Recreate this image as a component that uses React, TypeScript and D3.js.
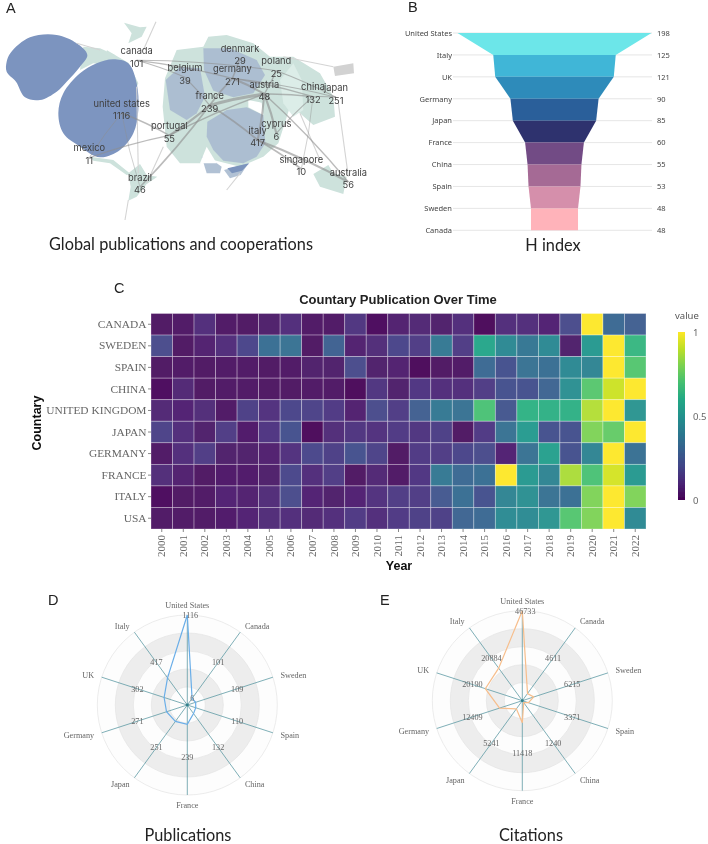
import React from "react";
import * as d3 from "d3";

// ---------- Panel A data (cartogram, in reference-map units) ----------
type P = [number, number];
const mapRegionsTeal: P[][] = [
  [[250,140],[300,145],[345,165],[385,188],[415,250],[402,280],[340,200],[280,190],[240,210]],
  [[495,235],[530,150],[610,140],[625,110],[680,105],[760,130],[810,170],[880,170],[960,220],[1000,290],[1005,350],[940,375],[900,340],[870,320],[835,430],[790,470],[720,500],[640,480],[600,490],[540,490],[500,440],[488,320]],
  [[385,520],[420,492],[440,525],[472,530],[440,552],[410,590],[385,602],[392,560]],
  [[940,522],[985,495],[1000,520],[1040,530],[1030,582],[960,560]],
  [[270,470],[340,480],[392,522],[380,525],[330,490],[280,482]],
  [[372,68],[420,82],[440,80],[425,110],[385,130],[395,100]],
  [[320,150],[345,165],[350,185],[325,175]],
];
const mapRegionsPale: P[][] = [
  [[840,240],[880,190],[905,240],[910,330],[880,350],[850,310]],
];
const mapRegionsBlueLight: P[][] = [
  [[497,240],[540,200],[600,205],[615,290],[590,340],[560,360],[510,330]],
  [[610,145],[690,145],[770,180],[795,225],[760,280],[700,292],[640,272],[612,210]],
  [[622,365],[680,330],[740,322],[790,345],[796,430],[770,470],[730,490],[670,482],[640,450],[620,410]],
  [[605,470],[630,475],[665,500],[660,520],[620,520]],
  [[672,510],[745,490],[722,525],[690,535]],
];
const mapRegionsDark: P[][] = [[[682,505],[748,490],[726,512],[696,520]]];
const alaskaBlob: P[] = [[32,158],[90,112],[170,105],[230,130],[262,165],[240,200],[200,245],[170,275],[120,300],[75,292],[48,245],[20,215],[20,185]];
const usaBlob: P[] = [[340,178],[385,190],[410,250],[415,330],[400,400],[360,450],[300,472],[240,440],[190,400],[175,340],[190,280],[240,220],[290,190]];
const mapGaps: P[][] = [
  [[745,300],[785,308],[790,345],[745,322]],
  [[600,490],[620,440],[650,490]],
];
const mapGrey: P[][] = [[[1000,200],[1060,190],[1062,220],[1005,228]]];
const faintLinesA: P[][] = [
  [[468,65],[430,150]],
  [[385,600],[375,660]],
  [[410,260],[415,520]],
  [[1015,310],[1045,530]],
  [[900,340],[960,480]],
  [[300,150],[230,130]],
  [[680,570],[720,520]],
  [[440,550],[490,440]],
  [[850,170],[1000,200]],
];
const countryNames = ["canada","denmark","belgium","germany","poland","austria","france","china","japan","united states","portugal","italy","cyprus","mexico","singapore","brazil","australia"];
const countryCounts = [101,29,39,271,25,48,239,132,251,1116,55,417,6,11,10,46,56];
const countryLabelX = [410,720,555,697,829,793,629,939,1008,365,508,773,829,268,904,420,1045];
const countryLabelY = [153,146,204,207,184,254,288,262,264,311,378,392,372,445,479,533,518];
const linkFrom = ["canada","canada","canada","belgium","germany","germany","germany","france","france","france","france","france","austria","austria","austria","austria","cyprus","china","poland","denmark","mexico","mexico","brazil","united states","italy","italy","china","portugal","poland"];
const linkTo = ["germany","belgium","poland","france","austria","japan","china","austria","portugal","brazil","italy","germany","cyprus","italy","australia","china","china","japan","austria","germany","united states","portugal","united states","portugal","australia","singapore","singapore","austria","japan"];
const linkWeight = [2,1.6,1.5,1.8,3,1.5,2,4,3,2.5,2.5,2.5,3,3,2,2,1.6,1.5,2,2,1.2,1.6,1,2,3,2.5,1,2,1.6];

// ---------- Panel B data ----------
const hCountries = ["United States","Italy","UK","Germany","Japan","France","China","Spain","Sweden","Canada"];
const hValues = [198,125,121,90,85,60,55,53,48,48];
const hColors = ["#6CE6E9","#40B6D7","#2E8BBA","#2C5F9A","#2E336E","#724B85","#A56A95","#D58FAB","#FFB3BA"];

// ---------- Panel C data ----------
const years = d3.range(2000, 2023).map(String);
const heatCountries = ["CANADA","SWEDEN","SPAIN","CHINA","UNITED KINGDOM","JAPAN","GERMANY","FRANCE","ITALY","USA"];
const heatCanada = [.02,.03,.1,.03,.02,.05,.1,.03,.03,.12,.01,.06,.08,.05,.1,0,.1,.1,.07,.2,1,.32,.27];
const heatSweden = [.2,.02,.06,.1,.18,.33,.35,.02,.28,.06,.09,.18,.15,.38,.15,.58,.45,.37,.45,.05,.52,1,.65];
const heatSpain = [.02,.03,.02,.03,.03,.02,.03,.05,.05,.2,.05,.06,0,.02,.03,.32,.22,.35,.33,.45,.43,1,.72];
const heatChina = [.01,.08,.02,.03,.03,.02,.02,.03,.03,0,.12,.05,.13,.1,.1,.15,.22,.22,.3,.48,.73,.92,1];
const heatUK = [.08,.07,.09,.03,.16,.11,.18,.17,.14,.06,.2,.15,.27,.38,.35,.7,.24,.63,.62,.62,.88,1,.5];
const heatJapan = [.17,.1,.05,.15,.04,.13,.22,0,.09,.12,.11,.14,.12,.16,.02,.14,.35,.53,.22,.22,.8,.75,1];
const heatGermany = [.03,.1,.15,.05,.05,.06,.11,.19,.16,.22,.17,.02,.14,.15,.18,.2,.07,.35,.55,.22,.43,1,.34];
const heatFrance = [.09,.06,.02,.04,.04,.05,.19,.1,.15,.02,.08,.03,.13,.38,.32,.33,1,.52,.43,.87,.7,.93,.52];
const heatItaly = [.01,.02,.03,.07,.06,.09,.2,.07,.05,.07,.11,.15,.15,.25,.33,.22,.43,.48,.35,.33,.8,1,.8];
const heatUSA = [.03,.03,.03,.04,.07,.09,.1,.08,.1,.14,.1,.14,.16,.16,.3,.32,.46,.46,.5,.72,.8,1,.45];
const heatRows = [heatCanada,heatSweden,heatSpain,heatChina,heatUK,heatJapan,heatGermany,heatFrance,heatItaly,heatUSA];
const legendTicks = [0,0.5,1];

// ---------- Panels D / E data ----------
const radarAxes = ["United States","Canada","Sweden","Spain","China","France","Japan","Germany","UK","Italy"];
const publications = [1116,101,109,110,132,239,251,271,302,417];
const citations = [46733,4611,6215,3371,1240,11418,5241,12409,20190,20884];
const ringSteps = [1,2,3,4,5];

const mapX = d3.scaleLinear().domain([0,1140]).range([0,380]);
const mapY = d3.scaleLinear().domain([0,780]).range([0,260]);
const mapLine = d3.line<P>().x(d => mapX(d[0])).y(d => mapY(d[1]));
const blobLine = d3.line<P>().x(d => mapX(d[0])).y(d => mapY(d[1])).curve(d3.curveCatmullRomClosed.alpha(0.5));

function linkPath(a: string, b: string) {
  const i = countryNames.indexOf(a), j = countryNames.indexOf(b);
  const x0 = mapX(countryLabelX[i]), y0 = mapY(countryLabelY[i] + 28);
  const x1 = mapX(countryLabelX[j]), y1 = mapY(countryLabelY[j] + 28);
  const p = d3.path();
  p.moveTo(x0, y0);
  p.quadraticCurveTo((x0 + x1) / 2 + (y1 - y0) * 0.035, (y0 + y1) / 2 - (x1 - x0) * 0.035, x1, y1);
  return p.toString();
}

function CartogramPanel() {
  return (
    <g>
      {mapRegionsTeal.map((r, i) => <path key={i} d={mapLine(r)! + "Z"} fill="#CDE2DC" />)}
      {mapRegionsPale.map((r, i) => <path key={i} d={mapLine(r)! + "Z"} fill="#DCEDE8" />)}
      {mapRegionsBlueLight.map((r, i) => <path key={i} d={mapLine(r)! + "Z"} fill="#A9BACF" opacity={0.9} />)}
      {mapRegionsDark.map((r, i) => <path key={i} d={mapLine(r)! + "Z"} fill="#7C94BD" />)}
      {mapGaps.map((r, i) => <path key={i} d={mapLine(r)! + "Z"} fill="#fff" />)}
      {mapGrey.map((r, i) => <path key={i} d={mapLine(r)! + "Z"} fill="#D2D2D2" />)}
      <path d={blobLine(alaskaBlob)!} fill="#7C94BF" />
      <path d={blobLine(usaBlob)!} fill="#7D95C0" />
      {faintLinesA.map((l, i) => <path key={i} d={mapLine(l)!} fill="none" stroke="#D4D4D4" strokeWidth={1.1} />)}
      {linkFrom.map((a, i) => (
        <path key={i} d={linkPath(a, linkTo[i])} fill="none" stroke="#8E8E8E" strokeOpacity={0.6} strokeWidth={linkWeight[i] * 0.7} />
      ))}
      {countryNames.map((n, i) => (
        <g key={n} fontFamily="Inter, 'Noto Sans', sans-serif" fontSize={9.3} fill="#404040" textAnchor="middle">
          <text x={mapX(countryLabelX[i])} y={mapY(countryLabelY[i]) + 3}>{n}</text>
          <text x={mapX(countryLabelX[i])} y={mapY(countryLabelY[i]) + 15.5}>{countryCounts[i]}</text>
        </g>
      ))}
    </g>
  );
}

function FunnelPanel() {
  const cx = 554.5;
  const y = d3.scalePoint<string>().domain(hCountries).range([33, 230.3]);
  const w = d3.scaleLinear().domain([0, 198]).range([0, 97]);
  const trap = d3.line<P>();
  return (
    <g fontFamily="'Noto Sans', sans-serif" fontSize={7.5} fill="#444">
      {hCountries.map(c => (
        <line key={c} x1={453} x2={652} y1={y(c)} y2={y(c)} stroke="#E3E3E3" strokeWidth={0.9} />
      ))}
      {hColors.map((col, i) => {
        const y0 = y(hCountries[i])!, y1 = y(hCountries[i + 1])!;
        const a = w(hValues[i]), b = w(hValues[i + 1]);
        return <path key={col} fill={col} d={trap([[cx - a, y0], [cx + a, y0], [cx + b, y1], [cx - b, y1]])! + "Z"} />;
      })}
      {hCountries.map((c, i) => (
        <g key={c}>
          <text x={452} y={y(c)! + 2.8} textAnchor="end">{c}</text>
          <text x={657} y={y(c)! + 2.8}>{hValues[i]}</text>
        </g>
      ))}
    </g>
  );
}

function HeatmapPanel() {
  const x = d3.scaleBand<string>().domain(years).range([151, 646]);
  const y = d3.scaleBand<string>().domain(heatCountries).range([313.5, 529]);
  const color = d3.scaleSequential(d3.interpolateViridis).domain([0, 1]);
  const leg = d3.scaleLinear().domain([0, 1]).range([500, 332]);
  const stops = d3.range(0, 1.01, 0.1);
  return (
    <g>
      <defs>
        <linearGradient id="vir" x1="0" y1="1" x2="0" y2="0">
          {stops.map(s => <stop key={s} offset={s} stopColor={color(s)} />)}
        </linearGradient>
      </defs>
      {heatRows.map((row, r) => row.map((v, c) => (
        <rect key={r + "-" + c} x={x(years[c])} y={y(heatCountries[r])} width={x.bandwidth()} height={y.bandwidth()}
          fill={color(v)} fillOpacity={0.94} stroke="#fff" strokeOpacity={0.38} strokeWidth={0.8} />
      )))}
      {heatCountries.map(c => (
        <g key={c}>
          <line x1={148} x2={151} y1={y(c)! + y.bandwidth() / 2} y2={y(c)! + y.bandwidth() / 2} stroke="#555" strokeWidth={0.7} />
          <text x={146.5} y={y(c)! + y.bandwidth() / 2 + 3.6} textAnchor="end" fontFamily="'Liberation Serif', serif" fontSize={11.4} fill="#666">{c}</text>
        </g>
      ))}
      {years.map(t => {
        const xx = x(t)! + x.bandwidth() / 2;
        return (
          <g key={t}>
            <line x1={xx} x2={xx} y1={529} y2={532} stroke="#555" strokeWidth={0.7} />
            <text transform={`translate(${xx + 3.6},535) rotate(-90)`} textAnchor="end" fontFamily="'Liberation Serif', serif" fontSize={11} fill="#666">{t}</text>
          </g>
        );
      })}
      <text x={398} y={303.5} textAnchor="middle" fontFamily="'Liberation Sans', sans-serif" fontWeight="bold" fontSize={13} fill="#222">Countary Publication Over Time</text>
      <text transform="translate(40.5,423) rotate(-90)" textAnchor="middle" fontFamily="'Liberation Sans', sans-serif" fontWeight="bold" fontSize={12.5} fill="#111">Countary</text>
      <text x={399} y={569.5} textAnchor="middle" fontFamily="'Liberation Sans', sans-serif" fontWeight="bold" fontSize={12.5} fill="#111">Year</text>
      <text x={675} y={319} fontFamily="'Noto Sans', sans-serif" fontSize={9.5} fill="#555">value</text>
      <rect x={678} y={332} width={7} height={168} fill="url(#vir)" />
      {legendTicks.map(t => (
        <text key={t} x={693} y={leg(t) + 4} fontFamily="'Noto Sans', sans-serif" fontSize={9.5} fill="#666">{t}</text>
      ))}
    </g>
  );
}

function RadarPanel({ cx, cy, values, stroke, extra }: { cx: number; cy: number; values: number[]; stroke: string; extra?: string }) {
  const r = d3.scaleLinear().domain([0, d3.max(values)!]).range([0, 90]);
  const ring = d3.scaleLinear().domain([0, 5]).range([0, 90]);
  const ang = d3.scaleLinear().domain([0, radarAxes.length]).range([0, 2 * Math.PI]);
  const px = (i: number, rad: number) => cx + rad * Math.sin(ang(i));
  const py = (i: number, rad: number) => cy - rad * Math.cos(ang(i));
  const line = d3.line<number>().x((v, i) => px(i, r(v))).y((v, i) => py(i, r(v))).curve(d3.curveLinearClosed);
  return (
    <g>
      {[...ringSteps].reverse().map(s => (
        <circle key={s} cx={cx} cy={cy} r={ring(s)} fill={s % 2 === 0 ? "#EDEDED" : "#FDFDFD"} stroke="#E4E4E4" strokeWidth={0.7} />
      ))}
      {radarAxes.map((a, i) => (
        <line key={a} x1={cx} y1={cy} x2={px(i, 90)} y2={py(i, 90)} stroke="#5E9AA5" strokeWidth={0.8} />
      ))}
      <path d={line(values)!} fill="none" stroke={stroke} strokeWidth={1.2} />
      <circle cx={cx} cy={cy} r={1.4} fill="#2F7F8A" />
      {radarAxes.map((a, i) => {
        const s = Math.sin(ang(i)), ext = 90 + (Math.abs(s) < 0.01 ? 10 : 8);
        const anchor = Math.abs(s) < 0.01 ? "middle" : s > 0 ? "start" : "end";
        return (
          <text key={a} x={px(i, ext)} y={py(i, ext) + 2.8} textAnchor={anchor} fontFamily="'Liberation Serif', serif" fontSize={8.2} fill="#666">{a}</text>
        );
      })}
      {values.map((v, i) => {
        const rad = i === 0 ? 90 : 52.5;
        return (
          <text key={i} x={px(i, rad) + (i === 0 ? 3 : 0)} y={py(i, rad) + 2.8} textAnchor="middle" fontFamily="'Liberation Serif', serif" fontSize={8.2} fill="#666">{v}</text>
        );
      })}
      {extra ? <text x={cx + 5} y={cy - 4} textAnchor="middle" fontFamily="'Liberation Serif', serif" fontSize={7.8} fill="#777">{extra}</text> : null}
    </g>
  );
}

const letterStyle = { fontFamily: "'Liberation Sans', sans-serif", fontSize: 14.5, fill: "#222" };
const captionStyle = { fontFamily: "Lato, 'Noto Sans', sans-serif", fontSize: 16.3, fill: "#222", textAnchor: "middle" as const };

export default function App() {
  return (
    <svg width={708} height={844} viewBox="0 0 708 844" style={{ position: "absolute", left: 0, top: 0, background: "#fff" }}>
      <defs>
        <filter id="soft" x="0" y="0" width="100%" height="100%"><feGaussianBlur stdDeviation="0.35" /></filter>
      </defs>
      <g filter="url(#soft)">
        <CartogramPanel />
        <FunnelPanel />
        <HeatmapPanel />
        <RadarPanel cx={187.3} cy={705} values={publications} stroke="#6AAEE8" extra="6" />
        <RadarPanel cx={522.3} cy={700.7} values={citations} stroke="#F7BE8C" />
        <text x={6} y={13} {...letterStyle}>A</text>
        <text x={408} y={12} {...letterStyle}>B</text>
        <text x={114} y={293} {...letterStyle}>C</text>
        <text x={48} y={605} {...letterStyle}>D</text>
        <text x={380} y={605} {...letterStyle}>E</text>
        <text x={181} y={250} {...captionStyle}>Global publications and cooperations</text>
        <text x={553} y={251} {...captionStyle}>H index</text>
        <text x={188} y={841} {...captionStyle}>Publications</text>
        <text x={531} y={841} {...captionStyle}>Citations</text>
      </g>
    </svg>
  );
}
